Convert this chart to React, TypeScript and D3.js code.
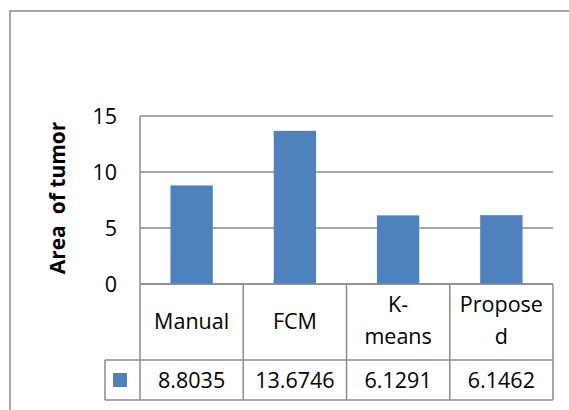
import React from "react";
import * as d3 from "d3";

const categories = ["Manual", "FCM", "K-means", "Proposed"];
const categoryLines = [["Manual"], ["FCM"], ["K-", "means"], ["Propose", "d"]];
const values = [8.8035, 13.6746, 6.1291, 6.1462];
const valueLabels = ["8.8035", "13.6746", "6.1291", "6.1462"];
const yTicks = [0, 5, 10, 15];
const yTitle = "Area  of tumor";

const W = 569;
const H = 410;
const FONT = "'Open Sans', sans-serif";
const GRID = "#8a8a8a";
const BAR = "#4F81BD";

export default function App() {
  const left = 140, right = 553, top = 116, bottom = 284;
  const catRowBottom = 360, valRowBottom = 400, legendLeft = 105;

  const y = d3.scaleLinear().domain([0, 15]).range([bottom, top]);
  const xBand = d3.scaleBand<string>().domain(categories).range([left, right]).padding(0);
  const xBar = d3
    .scaleBand<string>()
    .domain(categories)
    .range([left, right])
    .paddingInner(0.59)
    .paddingOuter(0.295);

  const fs = 21.5;
  const edges = categories.map((c) => xBand(c) as number).concat([right]);

  return (
    <svg
      width={W}
      height={H}
      style={{ position: "absolute", left: 0, top: 0, background: "#fff" }}
      fontFamily={FONT}
    >
      <rect x={0} y={0} width={W} height={H} fill="#fff" />
      {/* outer chart border */}
      <rect x={10} y={11} width={W + 20} height={H + 20} fill="none" stroke={GRID} strokeWidth={1.5} />

      {/* gridlines */}
      {yTicks.map((t) => (
        <line key={"g" + t} x1={left} x2={right} y1={y(t)} y2={y(t)} stroke={GRID} strokeWidth={1.5} />
      ))}
      {/* y axis line */}
      <line x1={left} x2={left} y1={top} y2={bottom} stroke={GRID} strokeWidth={1.5} />

      {/* bars */}
      {categories.map((c, i) => (
        <rect
          key={"b" + c}
          x={xBar(c) as number}
          y={y(values[i])}
          width={xBar.bandwidth()}
          height={y(0) - y(values[i])}
          fill={BAR}
        />
      ))}
      {/* re-draw baseline over bars */}
      <line x1={left} x2={right} y1={y(0)} y2={y(0)} stroke={GRID} strokeWidth={1.5} />

      {/* tick labels */}
      {yTicks.map((t) => (
        <text key={"t" + t} x={117} y={y(t)} dy={fs * 0.36} textAnchor="end" fontSize={fs} fill="#000">
          {t}
        </text>
      ))}

      {/* y title */}
      <text
        transform={`translate(${65},${198}) rotate(-90)`}
        textAnchor="middle"
        fontSize={21}
        fontWeight="bold"
        fill="#000"
        style={{ whiteSpace: "pre" }}
        xmlSpace="preserve"
      >
        {yTitle}
      </text>

      {/* data table */}
      {edges.map((e, i) => (
        <line key={"v" + i} x1={e} x2={e} y1={bottom} y2={valRowBottom} stroke={GRID} strokeWidth={1.5} />
      ))}
      <line x1={legendLeft} x2={legendLeft} y1={catRowBottom} y2={valRowBottom} stroke={GRID} strokeWidth={1.5} />
      <line x1={legendLeft} x2={right} y1={catRowBottom} y2={catRowBottom} stroke={GRID} strokeWidth={1.5} />
      <line x1={legendLeft} x2={right} y1={valRowBottom} y2={valRowBottom} stroke={GRID} strokeWidth={1.5} />

      {categories.map((c, i) => {
        const cx = (xBand(c) as number) + xBand.bandwidth() / 2;
        const lines = categoryLines[i];
        const baselines = lines.length === 1 ? [329] : [312, 344];
        return lines.map((ln, j) => (
          <text key={"c" + i + j} x={cx} y={baselines[j]} textAnchor="middle" fontSize={fs} fill="#000">
            {ln}
          </text>
        ));
      })}

      {categories.map((c, i) => {
        const cx = (xBand(c) as number) + xBand.bandwidth() / 2;
        return (
          <text key={"val" + i} x={cx} y={388} textAnchor="middle" fontSize={fs} fill="#000">
            {valueLabels[i]}
          </text>
        );
      })}

      {/* legend key */}
      <rect x={113} y={373} width={14} height={14} fill={BAR} />
    </svg>
  );
}
